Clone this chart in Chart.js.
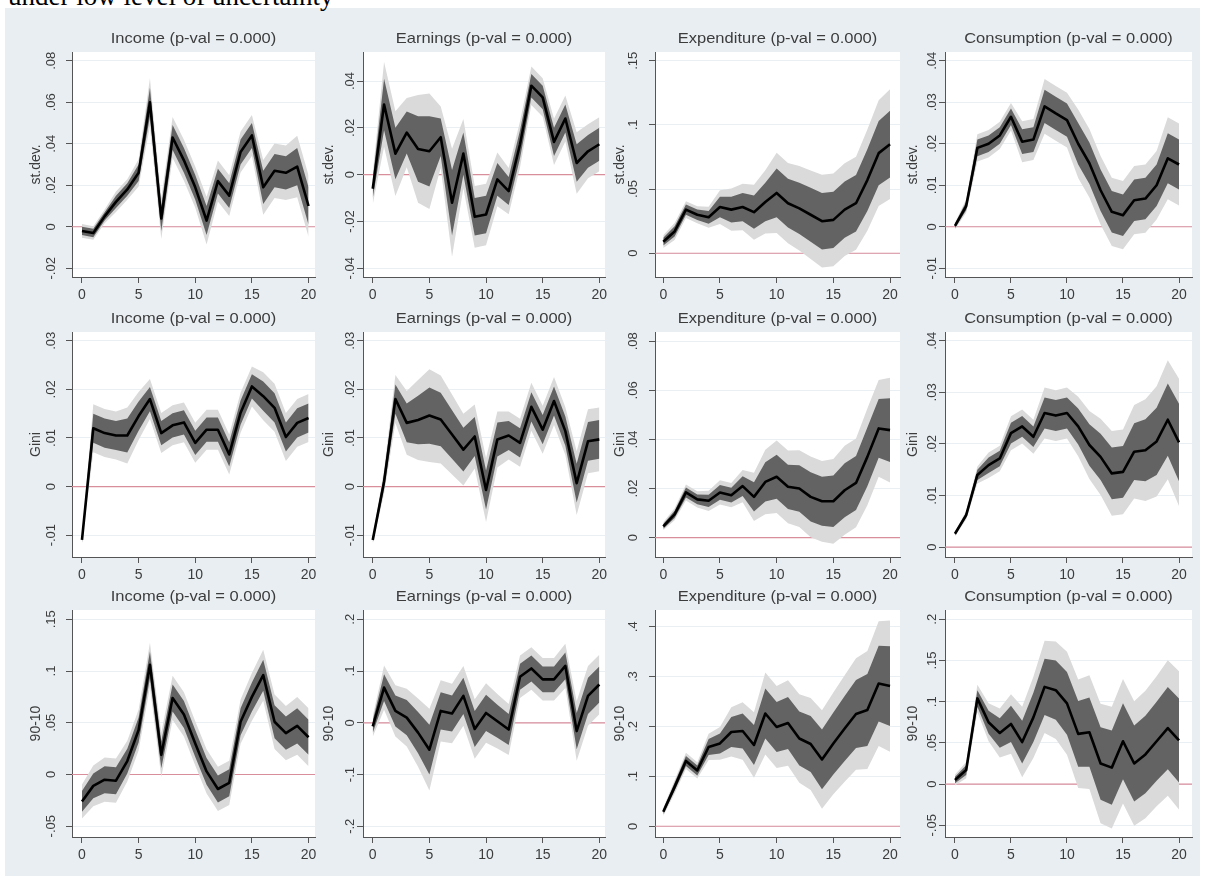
<!DOCTYPE html>
<html>
<head>
<meta charset="utf-8">
<script src="https://cdn.jsdelivr.net/npm/chart.js@4"></script>
<style>
  body { margin: 0; background: #fff; width: 1205px; height: 880px; overflow: hidden; position: relative; }
  #cap { position: absolute; left: 8px; top: 0; height: 12px; width: 560px; overflow: hidden; z-index: 2; }
  #cap span { position: absolute; left: 0; top: -17.5px; font: 27px/1 "Liberation Serif", "Times New Roman", serif; white-space: nowrap; color: #000; }
  #region { position: absolute; left: 5px; top: 8px; width: 1195px; height: 868px; background: #e8eef2; }
  canvas { position: absolute; }
</style>
</head>
<body>
<div id="region"></div>
<div id="cap"><span>under low level of uncertainty</span></div>
<script>
// horizon
const xs = [0, 1, 2, 3, 4, 5, 6, 7, 8, 9, 10, 11, 12, 13, 14, 15, 16, 17, 18, 19, 20];
const xTicks = [0, 5, 10, 15, 20];

const colTitles = ["Income (p-val = 0.000)", "Earnings (p-val = 0.000)", "Expenditure (p-val = 0.000)", "Consumption (p-val = 0.000)"];
const rowTitles = ["st.dev.", "Gini", "90-10"];

// row 1: st.dev.  (mean response, half-width of inner band)
const sdIncome = [-0.002, -0.003, 0.005, 0.012, 0.018, 0.026, 0.060, 0.004, 0.043, 0.032, 0.019, 0.003, 0.022, 0.015, 0.036, 0.044, 0.019, 0.027, 0.026, 0.029, 0.010];
const sdIncomeSe = [0.002, 0.002, 0.002, 0.003, 0.003, 0.004, 0.007, 0.006, 0.006, 0.006, 0.006, 0.007, 0.006, 0.006, 0.006, 0.006, 0.008, 0.008, 0.008, 0.009, 0.009];
const sdEarnings = [-0.006, 0.030, 0.009, 0.018, 0.011, 0.010, 0.016, -0.012, 0.009, -0.018, -0.017, -0.002, -0.007, 0.013, 0.038, 0.033, 0.014, 0.024, 0.005, 0.010, 0.013];
const sdEarningsSe = [0.004, 0.011, 0.011, 0.009, 0.014, 0.015, 0.008, 0.014, 0.009, 0.008, 0.008, 0.007, 0.006, 0.006, 0.005, 0.005, 0.006, 0.006, 0.008, 0.007, 0.007];
const sdExpend = [0.009, 0.017, 0.034, 0.030, 0.028, 0.036, 0.034, 0.036, 0.032, 0.040, 0.047, 0.039, 0.035, 0.030, 0.025, 0.026, 0.034, 0.039, 0.057, 0.078, 0.085];
const sdExpendSe = [0.003, 0.004, 0.004, 0.004, 0.005, 0.008, 0.010, 0.011, 0.013, 0.015, 0.019, 0.019, 0.020, 0.021, 0.022, 0.022, 0.022, 0.022, 0.024, 0.025, 0.026];
const sdConsum = [0.0002, 0.005, 0.019, 0.020, 0.022, 0.0265, 0.0205, 0.021, 0.029, 0.0273, 0.0257, 0.020, 0.0153, 0.0088, 0.0036, 0.0028, 0.0064, 0.0068, 0.010, 0.0165, 0.015];
const sdConsumSe = [0.0005, 0.001, 0.002, 0.002, 0.002, 0.002, 0.003, 0.003, 0.004, 0.004, 0.004, 0.005, 0.005, 0.005, 0.005, 0.005, 0.005, 0.005, 0.005, 0.006, 0.006];

// row 2: Gini
const giniIncome = [-0.011, 0.012, 0.011, 0.0105, 0.0105, 0.0145, 0.018, 0.011, 0.0126, 0.0132, 0.009, 0.0117, 0.0117, 0.0066, 0.0152, 0.0206, 0.0186, 0.0162, 0.0102, 0.0131, 0.0141];
const giniIncomeSe = [0.0005, 0.003, 0.003, 0.003, 0.0035, 0.003, 0.0025, 0.0025, 0.0025, 0.0025, 0.0025, 0.0025, 0.0025, 0.0025, 0.0025, 0.0025, 0.003, 0.003, 0.003, 0.003, 0.003];
const giniEarnings = [-0.011, 0.001, 0.018, 0.0131, 0.0137, 0.0146, 0.0138, 0.0107, 0.0076, 0.0103, -0.0007, 0.0097, 0.0105, 0.009, 0.0164, 0.0117, 0.0176, 0.0114, 0.0007, 0.0093, 0.0097];
const giniEarningsSe = [0.0005, 0.0015, 0.003, 0.004, 0.005, 0.0058, 0.0055, 0.005, 0.0045, 0.004, 0.004, 0.0035, 0.003, 0.003, 0.003, 0.003, 0.003, 0.003, 0.004, 0.004, 0.004];
const giniExpend = [0.0046, 0.0095, 0.0184, 0.0156, 0.015, 0.0184, 0.0173, 0.021, 0.0166, 0.0227, 0.0248, 0.0207, 0.020, 0.0166, 0.0148, 0.0148, 0.0193, 0.0223, 0.0329, 0.0445, 0.0438];
const giniExpendSe = [0.001, 0.0015, 0.002, 0.002, 0.0025, 0.003, 0.003, 0.004, 0.006, 0.008, 0.009, 0.009, 0.0095, 0.010, 0.010, 0.0105, 0.011, 0.011, 0.012, 0.012, 0.013];
const giniConsum = [0.0026, 0.0062, 0.014, 0.0159, 0.0172, 0.0221, 0.0234, 0.0214, 0.026, 0.0255, 0.026, 0.0234, 0.0198, 0.0175, 0.0143, 0.0146, 0.0185, 0.0188, 0.0205, 0.0247, 0.0203];
const giniConsumSe = [0.0003, 0.0005, 0.001, 0.0015, 0.0015, 0.002, 0.002, 0.002, 0.003, 0.003, 0.003, 0.0035, 0.004, 0.0045, 0.005, 0.005, 0.0055, 0.006, 0.0065, 0.007, 0.0075];

// row 3: 90-10
const p9010Income = [-0.026, -0.011, -0.005, -0.006, 0.013, 0.043, 0.106, 0.019, 0.074, 0.058, 0.030, 0.003, -0.014, -0.008, 0.051, 0.075, 0.096, 0.051, 0.040, 0.047, 0.036];
const p9010IncomeSe = [0.010, 0.012, 0.013, 0.013, 0.012, 0.012, 0.013, 0.013, 0.013, 0.013, 0.013, 0.013, 0.013, 0.013, 0.013, 0.014, 0.015, 0.016, 0.016, 0.017, 0.017];
const p9010Earnings = [-0.007, 0.068, 0.023, 0.010, -0.019, -0.052, 0.023, 0.018, 0.052, -0.012, 0.019, 0.003, -0.013, 0.089, 0.105, 0.084, 0.084, 0.110, -0.016, 0.052, 0.074];
const p9010EarningsSe = [0.012, 0.026, 0.030, 0.034, 0.040, 0.048, 0.036, 0.035, 0.035, 0.035, 0.035, 0.032, 0.030, 0.025, 0.025, 0.025, 0.025, 0.026, 0.035, 0.035, 0.035];
const p9010Expend = [0.029, 0.079, 0.131, 0.112, 0.159, 0.166, 0.189, 0.191, 0.163, 0.226, 0.199, 0.207, 0.176, 0.165, 0.134, 0.166, 0.196, 0.225, 0.233, 0.286, 0.281];
const p9010ExpendSe = [0.005, 0.008, 0.010, 0.010, 0.016, 0.020, 0.030, 0.035, 0.040, 0.050, 0.050, 0.052, 0.054, 0.056, 0.060, 0.062, 0.065, 0.068, 0.072, 0.076, 0.080];
const p9010Consum = [0.005, 0.017, 0.104, 0.075, 0.062, 0.073, 0.051, 0.081, 0.118, 0.114, 0.098, 0.061, 0.063, 0.025, 0.020, 0.052, 0.025, 0.036, 0.052, 0.068, 0.053];
const p9010ConsumSe = [0.004, 0.006, 0.010, 0.014, 0.018, 0.022, 0.026, 0.030, 0.034, 0.036, 0.038, 0.040, 0.042, 0.044, 0.045, 0.046, 0.046, 0.047, 0.048, 0.050, 0.051];

// y tick labels per panel
const yTicksGrid = [
  [[-0.02, 0, 0.02, 0.04, 0.06, 0.08], [-0.04, -0.02, 0, 0.02, 0.04], [0, 0.05, 0.1, 0.15], [-0.01, 0, 0.01, 0.02, 0.03, 0.04]],
  [[-0.01, 0, 0.01, 0.02, 0.03], [-0.01, 0, 0.01, 0.02, 0.03], [0, 0.02, 0.04, 0.06, 0.08], [0, 0.01, 0.02, 0.03, 0.04]],
  [[-0.05, 0, 0.05, 0.1, 0.15], [-0.2, -0.1, 0, 0.1, 0.2], [0, 0.1, 0.2, 0.3, 0.4], [-0.05, 0, 0.05, 0.1, 0.15, 0.2]]
];
const yRangeGrid = [
  [[-0.0242, 0.0842], [-0.0437, 0.0524], [-0.0185, 0.1568], [-0.0121, 0.0421]],
  [[-0.0145, 0.0318], [-0.0145, 0.0318], [-0.0079, 0.0838], [-0.0019, 0.0417]],
  [[-0.0604, 0.159], [-0.2207, 0.218], [-0.0215, 0.4335], [-0.0642, 0.2113]]
];
const means = [
  [sdIncome, sdEarnings, sdExpend, sdConsum],
  [giniIncome, giniEarnings, giniExpend, giniConsum],
  [p9010Income, p9010Earnings, p9010Expend, p9010Consum]
];
const ses = [
  [sdIncomeSe, sdEarningsSe, sdExpendSe, sdConsumSe],
  [giniIncomeSe, giniEarningsSe, giniExpendSe, giniConsumSe],
  [p9010IncomeSe, p9010EarningsSe, p9010ExpendSe, p9010ConsumSe]
];

// layout (pixels)
const colAxisX = [72, 363, 655, 945];
const colRight = [315, 605, 900, 1192];
const colXRange = [[-0.88, 20.57], [-0.86, 20.5], [-0.73, 20.88], [-0.89, 21.16]];
const colLabelOff = [21, 13, 22, 13];
const colTitleOff = [36, 34, 35, 32];
const rowTop = [52, 332, 610];
const rowAxisY = [277, 557, 837];

const AX_W = 62, TOP_PAD = 30, X_H = 34;
const TXT = "#3c3c3c", AXIS = "#555";
const FONT = '"Liberation Sans", Arial, sans-serif';

function fmt(v) {
  if (v === 0) return "0";
  return String(+v.toFixed(3)).replace(/^(-?)0\./, "$1.");
}

const plotBg = {
  id: "plotBg",
  beforeDraw(chart) {
    const a = chart.chartArea, ctx = chart.ctx;
    ctx.save();
    ctx.fillStyle = "#fff";
    ctx.fillRect(a.left, a.top, a.right - a.left, a.bottom - a.top);
    ctx.restore();
  }
};

const panelTitle = {
  id: "panelTitle",
  afterDraw(chart, args, opts) {
    const a = chart.chartArea, ctx = chart.ctx;
    ctx.save();
    ctx.font = "15px " + FONT;
    ctx.fillStyle = TXT;
    ctx.textAlign = "center";
    ctx.textBaseline = "middle";
    ctx.translate((a.left + a.right) / 2, a.top - 13);
    ctx.scale(1.1, 1);
    ctx.fillText(opts.text, 0, 0);
    ctx.restore();
  }
};

const yLabels = {
  id: "yLabels",
  afterDraw(chart, args, opts) {
    const s = chart.scales.y, ctx = chart.ctx;
    ctx.save();
    ctx.font = "13px " + FONT;
    ctx.fillStyle = TXT;
    ctx.textAlign = "center";
    ctx.textBaseline = "middle";
    s.ticks.forEach(t => {
      ctx.save();
      ctx.translate(s.right - opts.offset, s.getPixelForValue(t.value));
      ctx.rotate(-Math.PI / 2);
      ctx.fillText(fmt(t.value), 0, 0);
      ctx.restore();
    });
    ctx.restore();
  }
};

function pts(arr) {
  return xs.map((x, i) => ({ x: x, y: arr[i] }));
}

function band(mean, se, k) {
  return [mean.map((m, i) => m + k * se[i]), mean.map((m, i) => m - k * se[i])];
}

function makePanel(r, c) {
  const left = colAxisX[c] - AX_W;
  const top = rowTop[r] - TOP_PAD;
  const w = colRight[c] - colAxisX[c] + AX_W + 2;
  const h = rowAxisY[r] - rowTop[r] + TOP_PAD + X_H;

  const cv = document.createElement("canvas");
  cv.width = w; cv.height = h;
  cv.style.left = left + "px"; cv.style.top = top + "px";
  document.body.appendChild(cv);

  const mean = means[r][c], se = ses[r][c];
  const inner = band(mean, se, 1);
  const outer = band(mean, se, 1.645);
  const [xMin, xMax] = colXRange[c];
  const [yMin, yMax] = yRangeGrid[r][c];
  const yTicks = yTicksGrid[r][c];
  const clear = "rgba(0,0,0,0)";

  new Chart(cv, {
    type: "line",
    data: {
      datasets: [
        { data: pts(mean), borderColor: "#000", borderWidth: 2.6, borderJoinStyle: "round", pointRadius: 0, fill: false },
        { data: pts(inner[0]), borderColor: clear, borderWidth: 0, pointRadius: 0, backgroundColor: "#636363", fill: "+1" },
        { data: pts(inner[1]), borderColor: clear, borderWidth: 0, pointRadius: 0, fill: false },
        { data: pts(outer[0]), borderColor: clear, borderWidth: 0, pointRadius: 0, backgroundColor: "#dadada", fill: "+1" },
        { data: pts(outer[1]), borderColor: clear, borderWidth: 0, pointRadius: 0, fill: false },
        { data: [{ x: xMin, y: 0 }, { x: xMax, y: 0 }], borderColor: "#d98e9c", borderWidth: 1.2, pointRadius: 0, fill: false }
      ]
    },
    options: {
      responsive: false,
      animation: false,
      devicePixelRatio: 1,
      events: [],
      layout: { padding: { top: TOP_PAD, right: 2, left: 0, bottom: 0 } },
      plugins: {
        legend: { display: false },
        tooltip: { enabled: false },
        panelTitle: { text: colTitles[c] },
        yLabels: { offset: colLabelOff[c] }
      },
      scales: {
        x: {
          type: "linear",
          min: xMin, max: xMax,
          afterBuildTicks: s => { s.ticks = xTicks.map(v => ({ value: v })); },
          afterFit: s => { s.height = X_H; s.paddingLeft = 0; s.paddingRight = 0; },
          grid: { drawOnChartArea: false, tickLength: 6, tickColor: AXIS },
          border: { color: AXIS },
          ticks: { font: { size: 14, family: FONT }, color: TXT, padding: 4, maxRotation: 0, callback: v => String(v) }
        },
        y: {
          min: yMin, max: yMax,
          afterBuildTicks: s => { s.ticks = yTicks.map(v => ({ value: v })); },
          afterFit: s => { s.width = AX_W; s.paddingTop = 0; s.paddingBottom = 0; },
          grid: { color: "#eaeff3", tickLength: 6, tickColor: AXIS },
          border: { color: AXIS },
          ticks: { display: false },
          title: {
            display: true, text: rowTitles[r], color: TXT,
            font: { size: 14, family: FONT },
            padding: { top: AX_W - colTitleOff[c] - 8.4, bottom: 0 }
          }
        }
      }
    },
    plugins: [plotBg, panelTitle, yLabels]
  });
}

for (let r = 0; r < 3; r++) {
  for (let c = 0; c < 4; c++) makePanel(r, c);
}
</script>
</body>
</html>
